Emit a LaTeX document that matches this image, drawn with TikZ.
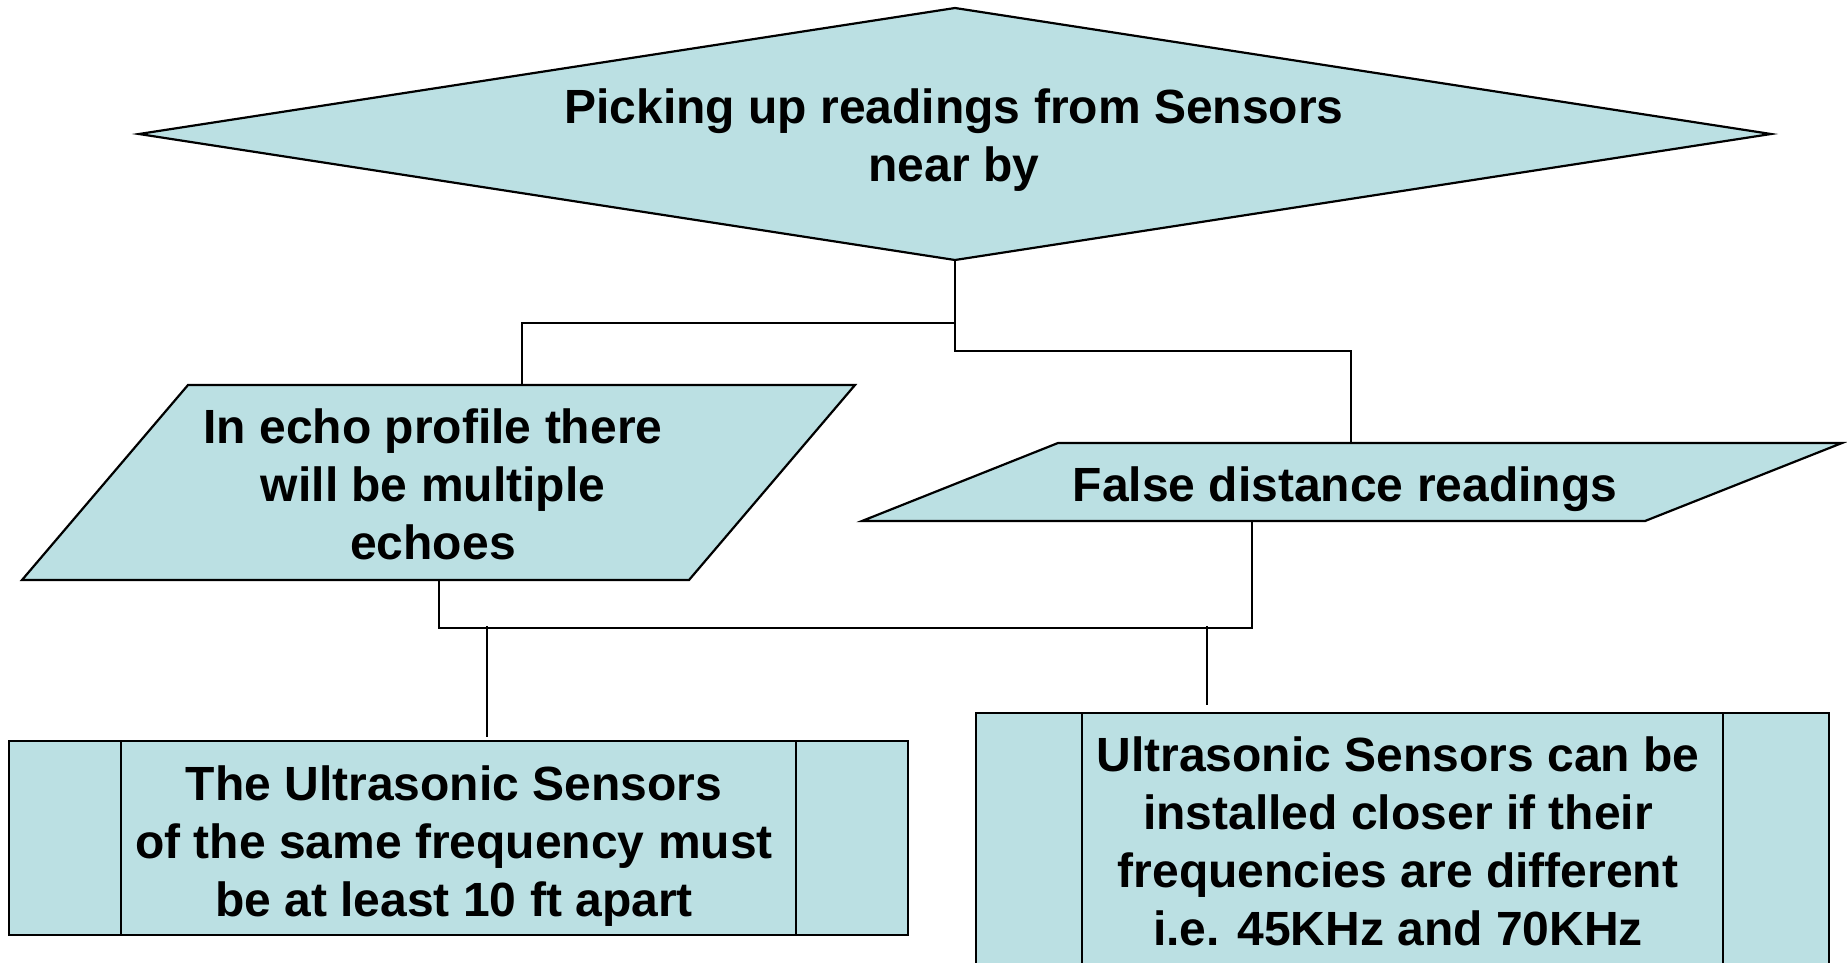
\documentclass[tikz,border=0pt]{standalone}
\usepackage{fontspec}
\setmainfont{Liberation Sans}
\definecolor{boxfill}{RGB}{187,224,227}
\begin{document}
\begin{tikzpicture}[x=1pt,y=-1pt,
  shapebox/.style={draw=black,fill=boxfill,line width=2.2pt,line join=miter},
  innerline/.style={draw=black,line width=2pt},
  conn/.style={draw=black,line width=1.8pt},
  drop/.style={draw=black,line width=2.6pt},
  txt/.style={inner sep=0pt,align=center,font=\bfseries\fontsize{48}{58}\selectfont}]
\useasboundingbox[fill=white] (0,0) rectangle (1847,962);

% shapes
\path[shapebox] (955,8) -- (1771,134) -- (955,260) -- (139,134) -- cycle;
\path[shapebox] (188,385) -- (855,385) -- (689,580) -- (22,580) -- cycle;
\path[shapebox] (1058,443) -- (1842,443) -- (1645,521) -- (862,521) -- cycle;
\path[shapebox] (9,741) rectangle (908,935);
\draw[innerline] (121,741) -- (121,935) (796,741) -- (796,935);
\path[shapebox] (976,713) rectangle (1829,975);
\draw[innerline] (1082,713) -- (1082,975) (1723,713) -- (1723,975);

% connection points
\coordinate (dB) at (955,260);
\coordinate (p1T) at (522,385);
\coordinate (p2T) at (1351,443);
\coordinate (p1B) at (439,580);
\coordinate (p2B) at (1252,521);
\coordinate (j1) at (487,626);
\coordinate (b1T) at (487,737);
\coordinate (j2) at (1207,626);
\coordinate (b2T) at (1207,705);

% texts
\node[txt] (dia) at (954,140) {Picking up readings from Sensors\\near by};
\node[txt] (par1) at (433,484) {In echo profile there\\will be multiple\\echoes};
\node[txt] (par2) at (1345,489) {False distance readings};
\node[txt] (box1) at (454,846) {The Ultrasonic Sensors\\of the same frequency must\\be at least 10 ft apart};
\node[txt] (box2) at (1398,841) {Ultrasonic Sensors can be\\installed closer if their\\frequencies are different\\i.e. 45KHz and 70KHz};

% connectors
\draw[conn] (dB) -- ++(0,63) -| (p1T);
\draw[conn] (dB) -- ++(0,91) -| (p2T);
\draw[conn] (p1B) -- ++(0,48) -| (p2B);
\draw[drop] (j1) -- (b1T);
\draw[drop] (j2) -- (b2T);
\end{tikzpicture}
\end{document}
